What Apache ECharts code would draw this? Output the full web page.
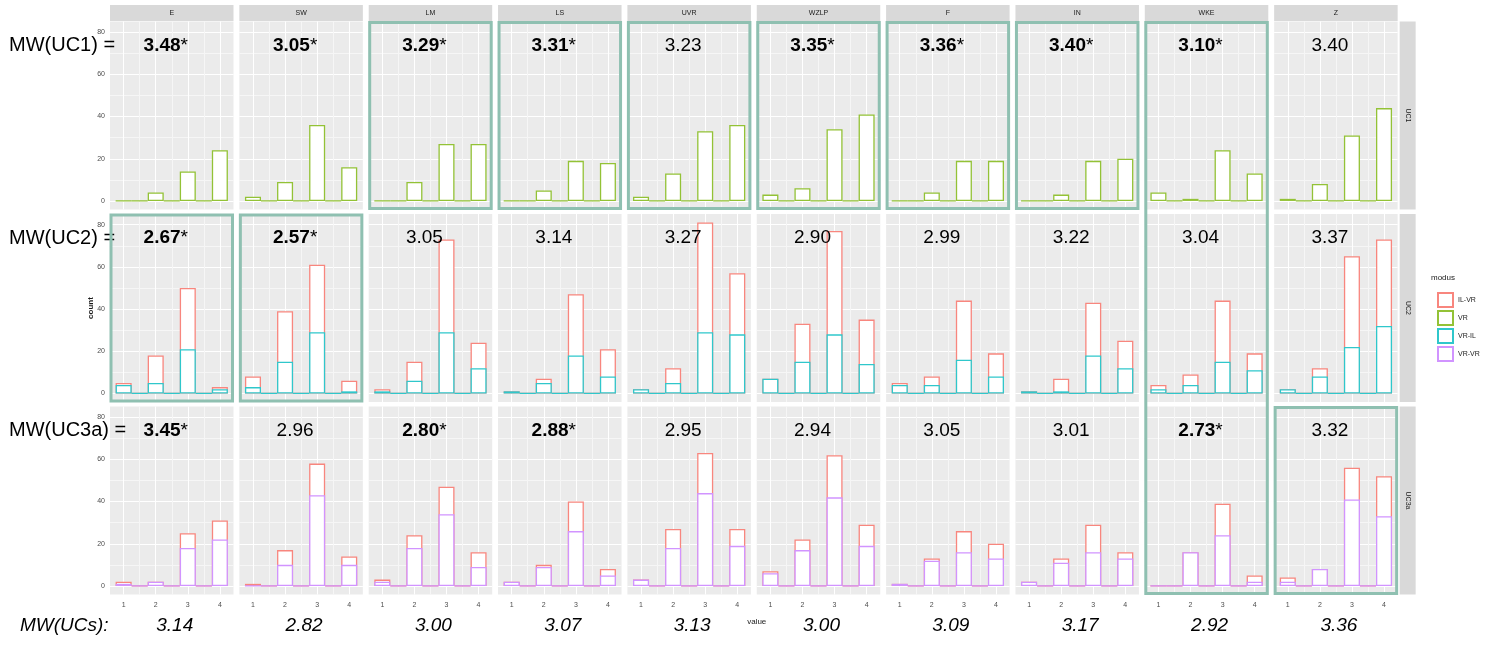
<!DOCTYPE html>
<html>
<head>
<meta charset="utf-8">
<script src="https://cdn.jsdelivr.net/npm/echarts@6/dist/echarts.min.js"></script>
<style>html,body{margin:0;padding:0;background:#fff;}</style>
</head>
<body>
<div id="chart" style="width:1500px;height:646px;"></div>
<script>
    // facets (columns) and rows of the grid
    var facets = ['E', 'SW', 'LM', 'LS', 'UVR', 'WZLP', 'F', 'IN', 'WKE', 'Z'];
    var ucRows = ['UC1', 'UC2', 'UC3a'];
    var answerValues = [1, 2, 3, 4];

    // counts per facet for answer value 1..4
    var vrUC1 = [[0, 4, 14, 24], [2, 9, 36, 16], [0, 9, 27, 27], [0, 5, 19, 18], [2, 13, 33, 36],
        [3, 6, 34, 41], [0, 4, 19, 19], [0, 3, 19, 20], [4, 1, 24, 13], [1, 8, 31, 44]];
    var vrilUC2 = [[4, 5, 21, 2], [3, 15, 29, 1], [1, 6, 29, 12], [1, 5, 18, 8], [2, 5, 29, 28],
        [7, 15, 28, 14], [4, 4, 16, 8], [1, 1, 18, 12], [2, 4, 15, 11], [2, 8, 22, 32]];
    var ilvrUC2 = [[1, 13, 29, 1], [5, 24, 32, 5], [1, 9, 44, 12], [0, 2, 29, 13], [0, 7, 52, 29],
        [0, 18, 49, 21], [1, 4, 28, 11], [0, 6, 25, 13], [2, 5, 29, 8], [0, 4, 43, 41]];
    var vrvrUC3a = [[1, 2, 18, 22], [0, 10, 43, 10], [2, 18, 34, 9], [2, 9, 26, 5], [3, 18, 44, 19],
        [6, 17, 42, 19], [1, 12, 16, 13], [2, 11, 16, 13], [0, 16, 24, 2], [2, 8, 41, 33]];
    var ilvrUC3a = [[1, 0, 7, 9], [1, 7, 15, 4], [1, 6, 13, 7], [0, 1, 14, 3], [0, 9, 19, 8],
        [1, 5, 20, 10], [0, 1, 10, 7], [0, 2, 13, 3], [0, 0, 15, 3], [2, 0, 15, 19]];

    // means written into the panels (* = significant)
    var mwUC1 = ['3.48*', '3.05*', '3.29*', '3.31*', '3.23', '3.35*', '3.36*', '3.40*', '3.10*', '3.40'];
    var mwUC2 = ['2.67*', '2.57*', '3.05', '3.14', '3.27', '2.90', '2.99', '3.22', '3.04', '3.37'];
    var mwUC3a = ['3.45*', '2.96', '2.80*', '2.88*', '2.95', '2.94', '3.05', '3.01', '2.73*', '3.32'];
    var mwUCs = ['3.14', '2.82', '3.00', '3.07', '3.13', '3.00', '3.09', '3.17', '2.92', '3.36'];

    // framed panels
    var framedUC1 = ['LM', 'LS', 'UVR', 'WZLP', 'F', 'IN'];
    var framedUC2 = ['E', 'SW'];
    var framedUC3a = ['Z'];
    var framedAllRows = ['WKE'];

    var modusNames = ['IL-VR', 'VR', 'VR-IL', 'VR-VR'];
    var modusColors = {'IL-VR': '#f8867e', 'VR': '#93c236', 'VR-IL': '#2fc7cb', 'VR-VR': '#d194ff'};

    var FONT = '"Liberation Sans", Arial, sans-serif';
    var left0 = 110, colStep = 129.35, panelW = 123.5;
    var top0 = 21.5, rowStep = 192.5, panelH = 188;
    var xMin = 0.575, xMax = 4.425, yMin = -4.05, yMax = 85.05;
    var barW = panelW * 0.5 / (xMax - xMin);

    // histogram bins of width 0.5: the answer values plus the empty bins between them
    function bins(counts) {
        var out = [];
        answerValues.forEach(function (v, i) {
            out.push([v, counts[i]]);
            if (i < answerValues.length - 1) out.push([v + 0.5, 0]);
        });
        return out;
    }
    function addCounts(a, b) {
        return a.map(function (v, i) { return v + b[i]; });
    }

    // per row: [name, counts (top of the segment), z]; upper segment drawn from the stacked total
    var rowSeries = [
        [{name: 'VR', data: vrUC1, z: 2}],
        [{name: 'IL-VR', data: ilvrUC2, base: vrilUC2, z: 2}, {name: 'VR-IL', data: vrilUC2, z: 3}],
        [{name: 'IL-VR', data: ilvrUC3a, base: vrvrUC3a, z: 2}, {name: 'VR-VR', data: vrvrUC3a, z: 3}]
    ];
    var rowMw = [mwUC1, mwUC2, mwUC3a];
    var rowFramed = [framedUC1, framedUC2, framedUC3a];

    var grids = [], xAxes = [], yAxes = [], series = [], graphics = [];
    var gridLines = {color: ['#ffffff', '#f6f6f6'], width: 1};

    ucRows.forEach(function (row, r) {
        facets.forEach(function (f, c) {
            var g = r * facets.length + c;
            var gl = left0 + c * colStep, gt = top0 + r * rowStep;
            grids.push({left: gl, top: gt, width: panelW, height: panelH,
                show: true, backgroundColor: '#ebebeb', borderWidth: 0});
            xAxes.push({
                gridIndex: g, type: 'value', min: xMin, max: xMax, minInterval: 0.5, maxInterval: 0.5,
                axisLine: {show: false}, axisTick: {show: false},
                axisLabel: {show: r === ucRows.length - 1, fontSize: 7, color: '#4d4d4d', margin: 7, fontFamily: FONT,
                    formatter: function (v) { return Number.isInteger(v) ? String(v) : ''; }},
                splitLine: {show: true, showMinLine: false, showMaxLine: false, lineStyle: gridLines}
            });
            yAxes.push({
                gridIndex: g, type: 'value', min: yMin, max: yMax, minInterval: 10, maxInterval: 10,
                axisLine: {show: false}, axisTick: {show: false},
                axisLabel: {show: c === 0, fontSize: 7, color: '#4d4d4d', margin: 5, fontFamily: FONT,
                    formatter: function (v) { return (v >= 0 && Math.round(v) % 20 === 0) ? String(Math.round(v)) : ''; }},
                splitLine: {show: true, showMinLine: false, showMaxLine: false, lineStyle: gridLines}
            });
            rowSeries[r].forEach(function (s) {
                var counts = s.base ? addCounts(s.data[c], s.base[c]) : s.data[c];
                series.push({
                    name: s.name, type: 'bar', xAxisIndex: g, yAxisIndex: g,
                    barWidth: barW, barGap: '-100%', z: s.z, silent: true,
                    itemStyle: {color: '#ffffff', borderColor: modusColors[s.name], borderWidth: 1.3},
                    data: bins(counts)
                });
            });

            // top strips
            if (r === 0) {
                graphics.push({type: 'rect', shape: {x: gl, y: 5, width: panelW, height: 16},
                    style: {fill: '#d9d9d9'}});
                graphics.push({type: 'text', x: gl + panelW / 2, y: 13,
                    style: {text: f, fill: '#1a1a1a', fontSize: 7, fontFamily: FONT,
                        textAlign: 'center', textVerticalAlign: 'middle'}});
            }

            // mean value in the panel
            var mw = rowMw[r][c];
            var star = mw.indexOf('*') >= 0;
            var txt = star ? '{b|' + mw.replace('*', '') + '}{s|*}' : '{n|' + mw + '}';
            graphics.push({type: 'text', x: gl + panelW / 2 - 6, y: gt + 24, z: 100,
                style: {text: txt, textAlign: 'center', textVerticalAlign: 'middle',
                    rich: {
                        b: {fontSize: 19, fontWeight: 'bold', fontFamily: FONT, fill: '#000'},
                        s: {fontSize: 19, fontFamily: FONT, fill: '#000'},
                        n: {fontSize: 19, fontFamily: FONT, fill: '#000'}
                    }}});

            // frames
            if (rowFramed[r].indexOf(f) >= 0) {
                graphics.push({type: 'rect', z: 101,
                    shape: {x: gl + 1, y: gt + 1, width: panelW - 2, height: panelH - 2},
                    style: {fill: 'none', stroke: '#8fc0b1', lineWidth: 3}});
            }
            if (r === 0 && framedAllRows.indexOf(f) >= 0) {
                graphics.push({type: 'rect', z: 101,
                    shape: {x: gl + 1, y: gt + 1, width: panelW - 2, height: 2 * rowStep + panelH - 2},
                    style: {fill: 'none', stroke: '#8fc0b1', lineWidth: 3}});
            }
        });

        // right strips
        var rt = top0 + r * rowStep;
        var rx = left0 + (facets.length - 1) * colStep + panelW + 2;
        graphics.push({type: 'rect', shape: {x: rx, y: rt, width: 16, height: panelH},
            style: {fill: '#d9d9d9'}});
        graphics.push({type: 'text', x: rx + 8, y: rt + panelH / 2, rotation: -Math.PI / 2,
            style: {text: row, fill: '#1a1a1a', fontSize: 7, fontFamily: FONT,
                textAlign: 'center', textVerticalAlign: 'middle'}});

        // row captions on the left
        graphics.push({type: 'text', x: 9, y: rt + 24, z: 100,
            style: {text: 'MW(' + row + ') =', fontSize: 20, fontFamily: FONT, fill: '#000',
                textAlign: 'left', textVerticalAlign: 'middle'}});
    });

    // bottom means
    graphics.push({type: 'text', x: 20, y: 626, z: 100,
        style: {text: 'MW(UCs):', fontSize: 19, fontStyle: 'italic', fontFamily: FONT, fill: '#000',
            textAlign: 'left', textVerticalAlign: 'middle'}});
    mwUCs.forEach(function (m, c) {
        graphics.push({type: 'text', x: left0 + c * colStep + panelW / 2 + 3, y: 626, z: 100,
            style: {text: m, fontSize: 19, fontStyle: 'italic', fontFamily: FONT, fill: '#000',
                textAlign: 'center', textVerticalAlign: 'middle'}});
    });

    // axis titles and legend title
    graphics.push({type: 'text', x: left0 + (facets.length * colStep) / 2, y: 622,
        style: {text: 'value', fontSize: 8, fontFamily: FONT, fill: '#1a1a1a',
            textAlign: 'center', textVerticalAlign: 'middle'}});
    graphics.push({type: 'text', x: 91, y: top0 + (2 * rowStep + panelH) / 2, rotation: Math.PI / 2,
        style: {text: 'count', fontSize: 8, fontWeight: 'bold', fontFamily: FONT, fill: '#1a1a1a',
            textAlign: 'center', textVerticalAlign: 'middle'}});
    graphics.push({type: 'text', x: 1431, y: 278,
        style: {text: 'modus', fontSize: 8, fontFamily: FONT, fill: '#1a1a1a',
            textAlign: 'left', textVerticalAlign: 'middle'}});

    var chart = echarts.init(document.getElementById('chart'));
    chart.setOption({
        animation: false,
        backgroundColor: '#ffffff',
        grid: grids,
        xAxis: xAxes,
        yAxis: yAxes,
        series: series,
        legend: {
            data: modusNames, orient: 'vertical', left: 1432, top: 287,
            icon: 'rect', itemWidth: 15, itemHeight: 14, itemGap: 2, selectedMode: false,
            textStyle: {fontSize: 7, color: '#1a1a1a', fontFamily: FONT}
        },
        graphic: graphics
    });
</script>
</body>
</html>
